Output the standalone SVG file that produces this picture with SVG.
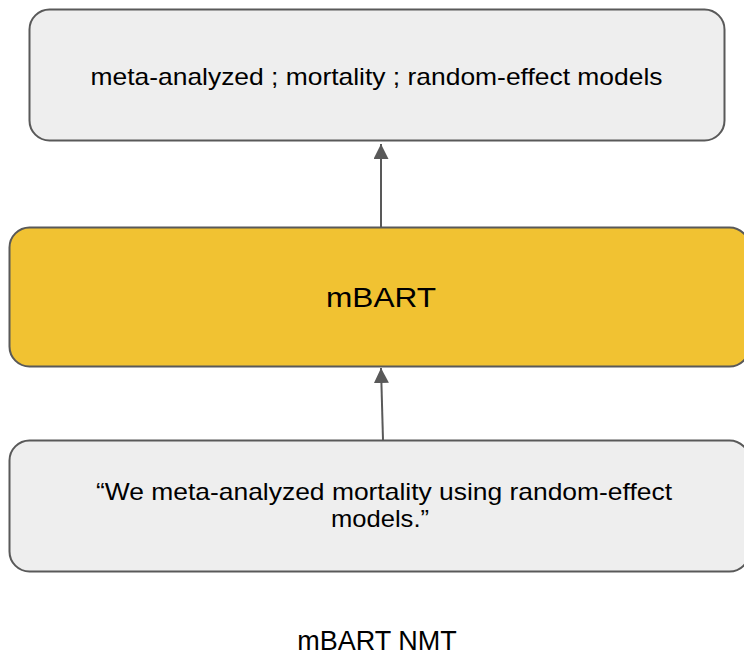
<svg xmlns="http://www.w3.org/2000/svg" width="744" height="655" viewBox="0 0 744 655">
  <style>
    .box { stroke: #595959; stroke-width: 2; }
    .grey { fill: #eeeeee; }
    .gold { fill: #f1c232; }
    .label { font-family: "Liberation Sans", Arial, sans-serif; fill: #000000; text-anchor: middle; }
    .edge { stroke: #595959; stroke-width: 2; fill: none; }
  </style>
  <defs>
    <marker id="head" viewBox="0 0 10 10" refX="10" refY="5" markerWidth="7.5" markerHeight="7.5" markerUnits="strokeWidth" orient="auto">
      <path d="M0,0 L10,5 L0,10 Z" fill="#595959"/>
    </marker>
  </defs>
  <rect width="744" height="655" fill="#ffffff"/>

  <!-- connectors -->
  <g id="connectors">
    <line class="edge" x1="381" y1="227" x2="381" y2="144" marker-end="url(#head)"/>
    <line class="edge" x1="383" y1="440" x2="381" y2="368" marker-end="url(#head)"/>
  </g>

  <!-- output keywords -->
  <g id="output">
    <rect class="box grey" x="29.5" y="9.5" width="695" height="131" rx="20" ry="20"/>
    <text class="label" x="376.5" y="84.5" font-size="24" textLength="572" lengthAdjust="spacingAndGlyphs">meta-analyzed ; mortality ; random-effect models</text>
  </g>

  <!-- model -->
  <g id="model">
    <rect class="box gold" x="9.5" y="227.5" width="740" height="139" rx="20" ry="20"/>
    <text class="label" x="381" y="307" font-size="27" textLength="110" lengthAdjust="spacingAndGlyphs">mBART</text>
  </g>

  <!-- input sentence -->
  <g id="input">
    <rect class="box grey" x="9.5" y="440.5" width="740" height="131" rx="20" ry="20"/>
    <text class="label" x="384" y="500" font-size="24" textLength="576" lengthAdjust="spacingAndGlyphs">“We meta-analyzed mortality using random-effect</text>
    <text class="label" x="380" y="527" font-size="24" textLength="98" lengthAdjust="spacingAndGlyphs">models.”</text>
  </g>

  <!-- caption -->
  <g id="caption">
    <text class="label" x="377" y="650" font-size="27">mBART NMT</text>
  </g>
</svg>
